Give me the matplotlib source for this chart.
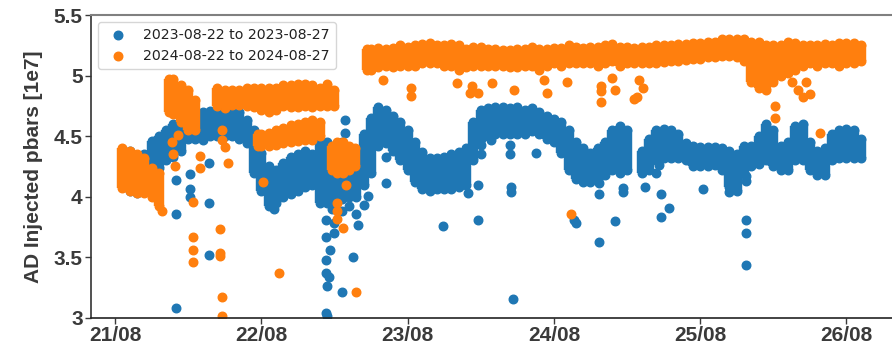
import matplotlib
matplotlib.use("Agg")
import matplotlib.pyplot as plt

# ---- data (values in units of 1e7, time in day-of-August) ----
LABEL_2023 = "2023-08-22 to 2023-08-27"
LABEL_2024 = "2024-08-22 to 2024-08-27"

# 2023: main band, min / max per time slot
blue_t = [21.10, 21.15, 21.20, 21.25, 21.30, 21.35, 21.40, 21.45, 21.50, 21.55,
          21.60, 21.65, 21.70, 21.75, 21.80, 21.85, 21.90, 21.95, 22.00, 22.05,
          22.10, 22.15, 22.20, 22.25, 22.30, 22.35, 22.40, 22.45, 22.50, 22.55,
          22.60, 22.65, 22.70, 22.75, 22.80, 22.85, 22.90, 22.95, 23.00, 23.05,
          23.10, 23.15, 23.20, 23.25, 23.30, 23.35, 23.40, 23.45, 23.50, 23.55,
          23.60, 23.65, 23.70, 23.75, 23.80, 23.85, 23.90, 23.95, 24.00, 24.05,
          24.10, 24.15, 24.20, 24.25, 24.30, 24.35, 24.40, 24.45, 24.50,
          24.60, 24.65, 24.70, 24.75, 24.80, 24.85, 24.90, 24.95, 25.00, 25.05,
          25.10, 25.15, 25.20, 25.25, 25.30, 25.35, 25.40, 25.45, 25.50, 25.55,
          25.60, 25.65, 25.70, 25.75, 25.80, 25.85, 25.90, 25.95, 26.00, 26.05,
          26.10]
blue_lo = [4.05, 4.03, 4.05, 4.22, 4.24, 4.30, 4.33, 4.38, 4.48, 4.48,
           4.47, 4.50, 4.50, 4.50, 4.50, 4.48, 4.44, 4.20, 4.05, 3.92,
           3.95, 4.00, 4.02, 4.05, 4.08, 4.10, 3.95, 3.95, 3.95, 3.98,
           4.00, 4.00, 4.10, 4.20, 4.42, 4.44, 4.38, 4.30, 4.22, 4.12,
           4.06, 4.05, 4.06, 4.06, 4.06, 4.08, 4.10, 4.30, 4.48, 4.50,
           4.52, 4.52, 4.52, 4.52, 4.52, 4.54, 4.52, 4.48, 4.45, 4.36,
           4.22, 4.15, 4.12, 4.12, 4.15, 4.18, 4.22, 4.20, 4.22,
           4.20, 4.22, 4.30, 4.32, 4.32, 4.32, 4.30, 4.25, 4.25, 4.25,
           4.26, 4.22, 4.08, 4.05, 4.20, 4.25, 4.27, 4.30, 4.25, 4.22,
           4.22, 4.30, 4.30, 4.22, 4.18, 4.18, 4.30, 4.32, 4.32, 4.32,
           4.32]
blue_hi = [4.38, 4.32, 4.35, 4.46, 4.50, 4.55, 4.60, 4.63, 4.70, 4.68,
           4.70, 4.71, 4.72, 4.72, 4.71, 4.70, 4.63, 4.55, 4.36, 4.25,
           4.22, 4.28, 4.33, 4.35, 4.38, 4.35, 4.45, 4.45, 4.40, 4.45,
           4.40, 4.35, 4.52, 4.65, 4.74, 4.72, 4.67, 4.62, 4.55, 4.45,
           4.37, 4.32, 4.32, 4.33, 4.35, 4.37, 4.40, 4.62, 4.72, 4.73,
           4.74, 4.74, 4.73, 4.74, 4.72, 4.73, 4.70, 4.67, 4.64, 4.62,
           4.55, 4.45, 4.40, 4.36, 4.40, 4.45, 4.55, 4.58, 4.55,
           4.38, 4.48, 4.55, 4.56, 4.55, 4.52, 4.44, 4.42, 4.41, 4.41,
           4.41, 4.40, 4.38, 4.35, 4.42, 4.42, 4.50, 4.60, 4.55, 4.42,
           4.45, 4.58, 4.60, 4.45, 4.38, 4.40, 4.52, 4.55, 4.56, 4.55,
           4.48]

# 2023: isolated readings
blue_out_t = [21.42, 21.51, 21.51, 21.51, 21.64, 21.64, 21.42, 21.64, 21.42, 22.09,
              22.44, 22.44, 22.47, 22.44, 22.44, 22.46, 22.45, 22.55, 22.44, 22.45,
              22.63, 22.66, 22.57, 22.57, 22.85, 22.85, 22.73, 22.70, 22.65, 22.50,
              22.50, 22.48, 22.55, 22.60,
              23.24, 23.41, 23.48, 23.48, 23.71, 23.71, 23.72, 23.50, 23.50, 23.57,
              23.70, 23.70, 23.88,
              24.14, 24.15, 24.31, 24.42, 24.31, 24.31, 24.47, 24.47, 24.62, 24.73,
              24.73, 24.79, 24.70, 24.72, 25.02, 25.20, 25.20, 25.31, 25.31, 25.31,
              25.31, 25.31]
blue_out_v = [4.14, 4.19, 4.06, 4.00, 4.28, 3.95, 3.86, 3.52, 3.08, 3.90,
              3.81, 3.67, 3.56, 3.48, 3.37, 3.34, 3.26, 3.21, 3.04, 3.02,
              3.50, 3.77, 4.63, 4.53, 4.33, 4.11, 4.01, 3.93, 3.86, 3.78,
              3.70, 3.90, 3.88, 3.92,
              3.76, 4.03, 4.10, 3.81, 4.08, 4.04, 3.16, 4.43, 4.35, 4.47,
              4.43, 4.35, 4.36,
              3.81, 3.78, 3.63, 3.80, 4.11, 4.02, 4.07, 4.04, 4.08, 4.02,
              3.83, 3.91, 4.20, 4.26, 4.06, 4.10, 4.04, 4.17, 4.13, 3.81,
              3.70, 3.44]

# 2024: bands, min / max per time slot (several bands overlap in time)
orange_t = [21.05, 21.10, 21.15, 21.20, 21.25, 21.30,
            21.37, 21.40, 21.45, 21.50, 21.55,
            21.70, 21.75, 21.80, 21.85, 21.90, 21.95, 22.00, 22.05, 22.10, 22.15,
            22.20, 22.25, 22.30, 22.35, 22.40, 22.45, 22.50,
            21.98, 22.00, 22.05, 22.10, 22.15, 22.20, 22.25, 22.30, 22.35, 22.40,
            22.48, 22.52, 22.56, 22.60, 22.64,
            22.72, 22.75, 22.80, 22.85, 22.90, 22.95, 23.00, 23.05, 23.10, 23.15,
            23.20, 23.25, 23.30, 23.35, 23.40, 23.45, 23.50, 23.55, 23.60, 23.65,
            23.70, 23.75, 23.80, 23.85, 23.90, 23.95, 24.00, 24.05, 24.10, 24.15,
            24.20, 24.25, 24.30, 24.35, 24.40, 24.45, 24.50, 24.55, 24.60, 24.65,
            24.70, 24.75, 24.80, 24.85, 24.90, 24.95, 25.00, 25.05, 25.10, 25.15,
            25.20, 25.25, 25.30, 25.35, 25.40, 25.45, 25.50, 25.55, 25.60, 25.65,
            25.70, 25.75, 25.80, 25.85, 25.90, 25.95, 26.00, 26.05, 26.10]
orange_lo = [4.07, 4.05, 4.03, 4.03, 4.00, 3.92,
             4.70, 4.68, 4.62, 4.55, 4.55,
             4.75, 4.73, 4.76, 4.76, 4.75, 4.74, 4.72, 4.70, 4.72, 4.75,
             4.74, 4.74, 4.75, 4.74, 4.75, 4.75, 4.75,
             4.42, 4.42, 4.42, 4.43, 4.44, 4.45, 4.46, 4.47, 4.47, 4.50,
             4.22, 4.20, 4.20, 4.22, 4.25,
             5.05, 5.05, 5.07, 5.08, 5.07, 5.08, 5.08, 5.08, 5.10, 5.10,
             5.10, 5.08, 5.08, 5.05, 5.07, 5.08, 5.08, 5.08, 5.08, 5.08,
             5.07, 5.07, 5.08, 5.08, 5.05, 5.08, 5.10, 5.08, 5.10, 5.10,
             5.10, 5.10, 5.08, 5.10, 5.12, 5.08, 5.10, 5.10, 5.10, 5.10,
             5.10, 5.11, 5.12, 5.12, 5.13, 5.14, 5.14, 5.15, 5.15, 5.16,
             5.16, 5.15, 5.12, 4.95, 4.90, 4.88, 4.95, 5.00, 5.02, 5.05,
             5.08, 5.10, 5.08, 5.10, 5.10, 5.08, 5.10, 5.10, 5.12]
orange_hi = [4.40, 4.38, 4.35, 4.32, 4.24, 4.20,
             4.97, 4.97, 4.92, 4.88, 4.80,
             4.90, 4.88, 4.88, 4.88, 4.90, 4.90, 4.90, 4.90, 4.90, 4.92,
             4.92, 4.93, 4.93, 4.92, 4.90, 4.93, 4.88,
             4.52, 4.52, 4.53, 4.55, 4.57, 4.59, 4.60, 4.62, 4.63, 4.62,
             4.42, 4.45, 4.45, 4.42, 4.40,
             5.22, 5.22, 5.23, 5.22, 5.23, 5.25, 5.24, 5.25, 5.26, 5.27,
             5.25, 5.25, 5.26, 5.25, 5.22, 5.24, 5.24, 5.22, 5.22, 5.21,
             5.21, 5.22, 5.22, 5.24, 5.22, 5.22, 5.23, 5.23, 5.25, 5.24,
             5.23, 5.24, 5.24, 5.25, 5.26, 5.24, 5.24, 5.23, 5.24, 5.24,
             5.25, 5.25, 5.25, 5.26, 5.26, 5.27, 5.27, 5.28, 5.28, 5.30,
             5.30, 5.30, 5.30, 5.28, 5.28, 5.25, 5.25, 5.25, 5.28, 5.27,
             5.25, 5.25, 5.25, 5.26, 5.25, 5.27, 5.27, 5.27, 5.25]

# 2024: isolated readings
orange_out_t = [21.43, 21.58, 21.58, 21.53, 21.53, 21.53, 21.53, 21.39, 21.40, 21.41,
                21.32, 21.73, 21.73, 21.75, 21.77, 22.01, 21.72, 21.72, 21.72, 22.12,
                21.73, 21.73, 22.58, 22.52, 22.52, 22.52, 22.56, 22.65,
                22.83, 23.02, 23.02, 23.34, 23.44, 23.43, 23.48, 23.58, 23.73, 23.93,
                23.95, 24.09, 24.32, 24.32, 24.32, 24.40, 24.42, 24.55, 24.12, 24.58,
                24.61, 24.57, 25.51, 25.51, 25.82, 25.63, 25.67, 25.70, 25.75, 25.72]
orange_out_v = [4.51, 4.34, 4.24, 3.96, 3.67, 3.56, 3.46, 4.45, 4.35, 4.25,
                3.88, 4.55, 4.47, 4.41, 4.28, 4.12, 3.73, 3.54, 3.51, 3.37,
                3.17, 3.02, 4.10, 3.95, 3.88, 3.82, 3.74, 3.21,
                4.96, 4.90, 4.83, 4.94, 4.91, 4.86, 4.86, 4.94, 4.88, 4.96,
                4.86, 4.95, 4.91, 4.87, 4.78, 4.98, 4.88, 4.81, 3.86, 4.96,
                4.90, 4.82, 4.75, 4.65, 4.53, 4.95, 4.88, 4.82, 4.85, 4.95]

day_ticks = [21, 22, 23, 24, 25, 26]
day_labels = ["21/08", "22/08", "23/08", "24/08", "25/08", "26/08"]
y_ticks = [3, 3.5, 4, 4.5, 5, 5.5]

BLUE = "#1f77b4"
ORANGE = "#ff7f0e"
TXT = "#3a3a3a"


def draw_series(ax, t, lo, hi, out_t, out_v, color, label):
    # dense readings: dots at band edges, filled between them
    ax.vlines(t, lo, hi, colors=color, linewidth=7.5, zorder=2)
    ax.scatter(t, lo, s=38, color=color, zorder=2)
    ax.scatter(t, hi, s=38, color=color, zorder=2)
    ax.scatter(out_t, out_v, s=38, color=color, zorder=2, label=label)


fig = plt.figure(figsize=(8.92, 3.49), dpi=100)
ax = fig.add_axes([0.102, 0.089, 0.898, 0.868])

draw_series(ax, blue_t, blue_lo, blue_hi, blue_out_t, blue_out_v, BLUE, LABEL_2023)
draw_series(ax, orange_t, orange_lo, orange_hi, orange_out_t, orange_out_v, ORANGE, LABEL_2024)

ax.set_xlim(20.836, 26.311)
ax.set_ylim(3, 5.5)
ax.set_xticks(day_ticks)
ax.set_xticklabels(day_labels)
ax.set_yticks(y_ticks)
ax.set_yticklabels([f"{v:g}" for v in y_ticks])

for lab in ax.get_xticklabels() + ax.get_yticklabels():
    lab.set_fontfamily("Liberation Sans")
    lab.set_fontweight("bold")
    lab.set_fontsize(15)
    lab.set_color(TXT)
ax.tick_params(axis="both", colors=TXT, length=4, width=1)
ax.tick_params(axis="x", pad=2)
ax.tick_params(axis="y", pad=2)

ax.set_ylabel("AD Injected pbars [1e7]", fontfamily="Liberation Sans",
              fontweight="bold", fontsize=15, color=TXT, labelpad=8)

ax.spines["right"].set_visible(False)
ax.spines["top"].set_color("#808080")
ax.spines["top"].set_linewidth(1.5)
ax.spines["left"].set_color("#333333")
ax.spines["left"].set_linewidth(1.2)
ax.spines["bottom"].set_color("#222222")
ax.spines["bottom"].set_linewidth(1.2)

leg = ax.legend(loc="upper left", fontsize=10.2, frameon=True)
leg.get_frame().set_edgecolor("#cccccc")
for txt in leg.get_texts():
    txt.set_color("#222222")

fig.savefig("out.png", dpi=100)
